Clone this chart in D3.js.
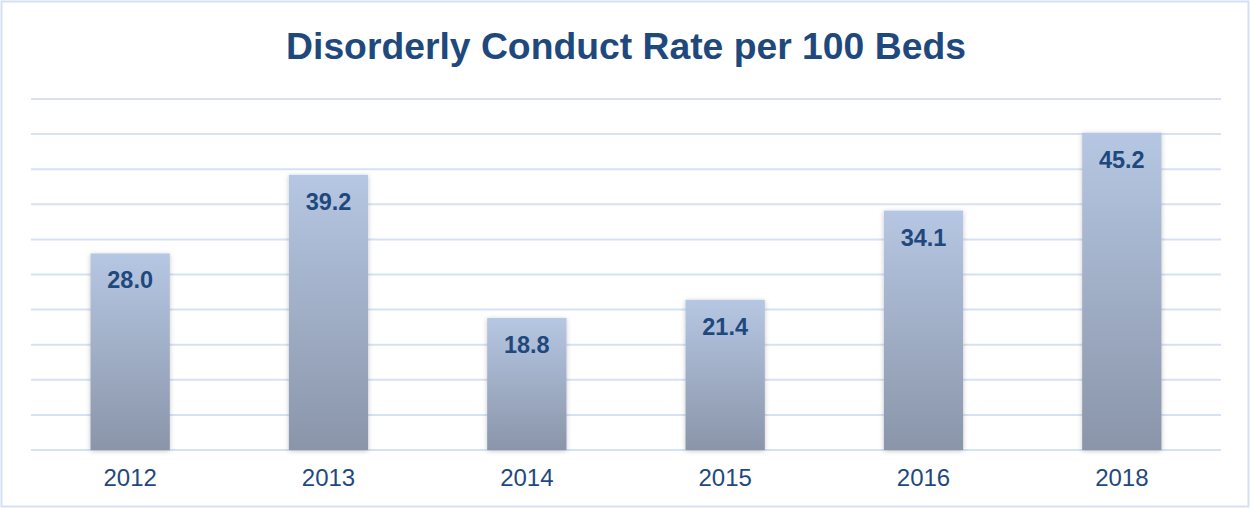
<!DOCTYPE html>
<html>
<head>
<meta charset="utf-8">
<script src="https://cdn.jsdelivr.net/npm/d3@7"></script>
<style>
  body { margin: 0; background: #fff; }
  svg { display: block; font-family: Arial, "Liberation Sans", sans-serif; }
</style>
</head>
<body>
<svg id="chart"></svg>
<script>
const years = ["2012", "2013", "2014", "2015", "2016", "2018"];
const rates = [28.0, 39.2, 18.8, 21.4, 34.1, 45.2];
const gridTicks = [0, 5, 10, 15, 20, 25, 30, 35, 40, 45, 50];

const width = 1250;
const height = 508;
const margin = { top: 99, right: 29, bottom: 58, left: 31 };

const svg = d3.select("#chart")
    .attr("width", width)
    .attr("height", height);

// outer frame
svg.append("rect")
    .attr("x", 1.5).attr("y", 1.5)
    .attr("width", width - 3).attr("height", height - 3)
    .attr("fill", "#fff")
    .attr("stroke", "#d5e1f2")
    .attr("stroke-width", 2);

const defs = svg.append("defs");
const grad = defs.append("linearGradient")
    .attr("id", "barGrad")
    .attr("x1", 0).attr("y1", 0).attr("x2", 0).attr("y2", 1);
grad.append("stop").attr("offset", "0%").attr("stop-color", "#b6c7e3");
grad.append("stop").attr("offset", "100%").attr("stop-color", "#8a95a9");

const shadow = defs.append("filter")
    .attr("id", "shadow")
    .attr("x", "-20%").attr("y", "-10%").attr("width", "140%").attr("height", "120%");
shadow.append("feDropShadow")
    .attr("dx", 0).attr("dy", 1).attr("stdDeviation", 2.5)
    .attr("flood-color", "#000").attr("flood-opacity", 0.22);

const xScale = d3.scaleBand()
    .domain(years)
    .range([margin.left, width - margin.right])
    .paddingInner(0.6)
    .paddingOuter(0.3);

const yScale = d3.scaleLinear()
    .domain([0, 50])
    .range([height - margin.bottom, margin.top]);

// gridlines
svg.append("g")
    .selectAll("line")
    .data(gridTicks)
    .enter()
    .append("line")
    .attr("x1", margin.left)
    .attr("x2", width - margin.right)
    .attr("y1", d => yScale(d))
    .attr("y2", d => yScale(d))
    .attr("stroke", "#d6e2f3")
    .attr("stroke-width", 2);

// bars
svg.append("g")
    .selectAll("rect")
    .data(rates)
    .enter()
    .append("rect")
    .attr("x", (d, i) => xScale(years[i]))
    .attr("y", d => yScale(d))
    .attr("width", xScale.bandwidth())
    .attr("height", d => yScale(0) - yScale(d))
    .attr("fill", "url(#barGrad)")
    .attr("filter", "url(#shadow)");

// value labels
svg.append("g")
    .selectAll("text")
    .data(rates)
    .enter()
    .append("text")
    .attr("x", (d, i) => xScale(years[i]) + xScale.bandwidth() / 2)
    .attr("y", d => yScale(d) + 35)
    .attr("text-anchor", "middle")
    .attr("font-size", "23.5px")
    .attr("font-weight", "bold")
    .attr("fill", "#1f497d")
    .text(d => d.toFixed(1));

// x axis
const xAxis = d3.axisBottom(xScale).tickSize(0).tickPadding(19);
const gx = svg.append("g")
    .attr("transform", `translate(0, ${height - margin.bottom})`)
    .call(xAxis);
gx.select(".domain").remove();
gx.selectAll("text")
    .attr("font-size", "24px")
    .attr("fill", "#1f497d");

svg.append("text")
    .attr("x", 626)
    .attr("y", 59)
    .attr("text-anchor", "middle")
    .attr("font-size", "37.3px")
    .attr("font-weight", "bold")
    .attr("fill", "#1f497d")
    .text("Disorderly Conduct Rate per 100 Beds");
</script>
</body>
</html>
